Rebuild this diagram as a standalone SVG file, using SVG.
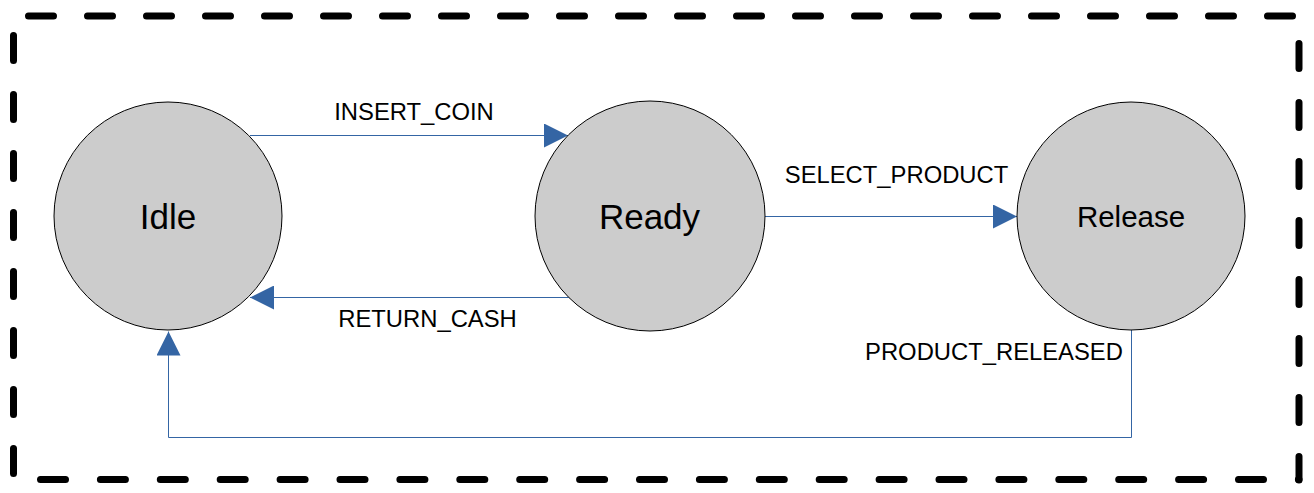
<svg xmlns="http://www.w3.org/2000/svg" width="1314" height="493" viewBox="0 0 1314 493">
  <style>
    .frame { fill: none; stroke: #000; stroke-width: 7; stroke-linecap: round; stroke-dasharray: 25 34; }
    .state { fill: #cccccc; stroke: #000; stroke-width: 1; }
    .stateLabel { font-family: "Liberation Sans", Arial, sans-serif; fill: #000; text-anchor: middle; }
    .edge { fill: none; stroke: #3465a4; stroke-width: 1; marker-end: url(#arrow); }
    .edgeLabel { font-family: "Liberation Sans", Arial, sans-serif; font-size: 23.8px; fill: #000; text-anchor: middle; }
  </style>
  <defs>
    <marker id="arrow" markerUnits="userSpaceOnUse" markerWidth="24" markerHeight="24" refX="24" refY="12" orient="auto" viewBox="0 0 24 24">
      <path d="M0,0 L24,12 L0,24 Z" fill="#3465a4"/>
    </marker>
  </defs>
  <rect width="1314" height="493" fill="#fff"/>
  <g id="frame">
    <line class="frame" x1="28.5" y1="16" x2="1299" y2="16"/>
    <line class="frame" x1="1299" y1="43.5" x2="1299" y2="480"/>
    <line class="frame" x1="40.5" y1="479.5" x2="1299" y2="479.5" style="stroke-dasharray: 25 34.9"/>
    <line class="frame" x1="13.5" y1="35.5" x2="13.5" y2="480"/>
  </g>
  <g id="connectors">
    <line class="edge" x1="250" y1="135.5" x2="568" y2="135.5"/>
    <line class="edge" x1="570" y1="297.5" x2="250" y2="297.5"/>
    <line class="edge" x1="765" y1="216.5" x2="1017" y2="216.5"/>
    <path class="edge" d="M1131.5,330 V437.5 H168.5 V331.5"/>
    <text class="edgeLabel" x="414" y="120">INSERT_COIN</text>
    <text class="edgeLabel" x="427.5" y="327">RETURN_CASH</text>
    <text class="edgeLabel" x="896.5" y="183">SELECT_PRODUCT</text>
    <text class="edgeLabel" x="994" y="360">PRODUCT_RELEASED</text>
  </g>
  <g id="idle">
    <circle class="state" cx="168" cy="216" r="114"/>
    <text class="stateLabel" x="168" y="229" font-size="35">Idle</text>
  </g>
  <g id="ready">
    <circle class="state" cx="650" cy="216" r="115"/>
    <text class="stateLabel" x="649.5" y="228.5" font-size="35">Ready</text>
  </g>
  <g id="release">
    <circle class="state" cx="1131" cy="216" r="114"/>
    <text class="stateLabel" x="1131" y="227" font-size="29.5">Release</text>
  </g>
</svg>
